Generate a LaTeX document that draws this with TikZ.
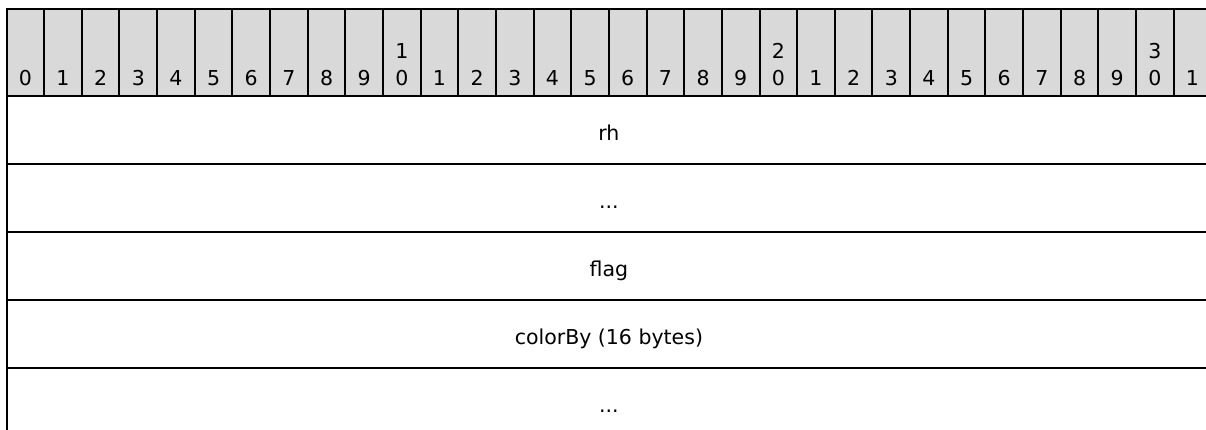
\documentclass[tikz,border=0pt]{standalone}
\usepackage{fontspec}
\setmainfont{DejaVu Sans}
\usetikzlibrary{positioning}
\definecolor{hdrgray}{RGB}{217,217,217}
\newcommand{\moredots}{.\kern0pt.\kern0pt.}

\tikzset{
  hdrcell/.style={draw=black, line width=2pt, fill=hdrgray, minimum width=37.65pt,
    minimum height=87.5pt, inner sep=0pt, anchor=north west},
  bitnum/.style={font=\fontsize{20.5}{25}\selectfont, inner sep=0pt, anchor=base},
  fieldrow/.style={draw=black, line width=2pt, minimum width=1204.8pt,
    minimum height=67.8pt, inner sep=0pt, anchor=north west},
  fieldtxt/.style={font=\fontsize{20.5}{25}\selectfont, inner sep=0pt, anchor=base}
}

\begin{document}
\begin{tikzpicture}[x=1pt, y=1pt]
  \useasboundingbox (0,0) rectangle (1206,-430);
  \clip (0,0) rectangle (1206,-430);

  % bit ruler
  \foreach \i in {0,1,...,31}{
    \pgfmathtruncatemacro{\unit}{mod(\i,10)}
    \pgfmathtruncatemacro{\tens}{\i/10}
    \node[hdrcell] (b\i) at ({5.5+37.65*\i},-8) {};
    \node[bitnum] (n\i) at ([yshift=12.2pt]b\i.south) {\unit};
    \ifnum\unit=0 \ifnum\i>0
      \node[bitnum] (m\i) at ([yshift=38.8pt]b\i.south) {\tens};
    \fi\fi
  }

  % fields
  \foreach \txt [count=\k] in {rh,\moredots,flag,colorBy (16 bytes),\moredots}{
    \node[fieldrow] (r\k) at (5.5,{-95.5-67.8*(\k-1)}) {};
    \node[fieldtxt] (t\k) at ([yshift=-45.5pt]r\k.north) {\txt};
  }
\end{tikzpicture}
\end{document}
